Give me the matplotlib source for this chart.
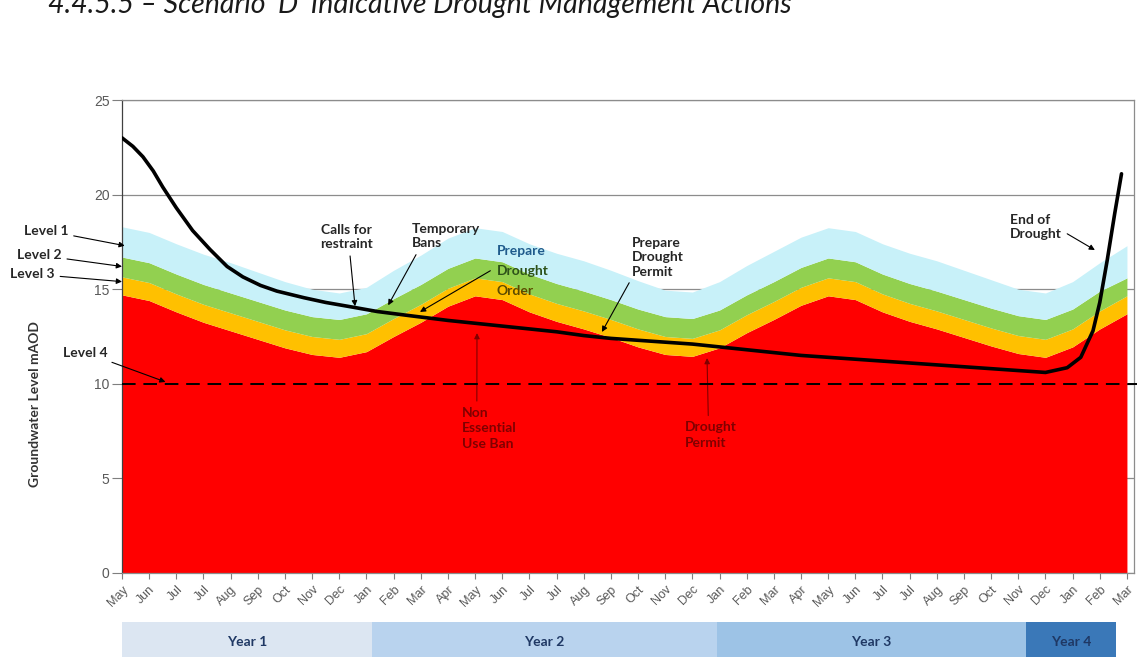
import numpy as np
import matplotlib.pyplot as plt

plt.rcParams['font.family'] = ['Lato', 'DejaVu Sans']

# month ticks (Year 1 .. Year 4)
months = ['May', 'Jun', 'Jul', 'Jul', 'Aug', 'Sep', 'Oct', 'Nov', 'Dec', 'Jan', 'Feb', 'Mar', 'Apr',
          'May', 'Jun', 'Jul', 'Jul', 'Aug', 'Sep', 'Oct', 'Nov', 'Dec', 'Jan', 'Feb', 'Mar', 'Apr',
          'May', 'Jun', 'Jul', 'Jul', 'Aug', 'Sep', 'Oct', 'Nov', 'Dec', 'Jan', 'Feb', 'Mar']

# trigger level boundaries (mAOD), one value per month tick
red_top = [14.7, 14.4, 13.8, 13.25, 12.8, 12.35, 11.9, 11.55, 11.4, 11.7, 12.5, 13.25, 14.1,
           14.65, 14.45, 13.8, 13.3, 12.9, 12.45, 11.95, 11.55, 11.45, 11.9, 12.7, 13.4, 14.15,
           14.65, 14.45, 13.8, 13.3, 12.9, 12.45, 12.0, 11.6, 11.4, 11.95, 12.9, 13.7]
yellow_top = [15.65, 15.35, 14.75, 14.2, 13.75, 13.3, 12.85, 12.5, 12.35, 12.65, 13.45, 14.2, 15.05,
              15.6, 15.4, 14.75, 14.25, 13.85, 13.4, 12.9, 12.5, 12.4, 12.85, 13.65, 14.35, 15.1,
              15.6, 15.4, 14.75, 14.25, 13.85, 13.4, 12.95, 12.55, 12.35, 12.9, 13.85, 14.65]
green_top = [16.7, 16.4, 15.8, 15.25, 14.8, 14.35, 13.9, 13.55, 13.4, 13.7, 14.5, 15.25, 16.1,
             16.65, 16.45, 15.8, 15.3, 14.9, 14.45, 13.95, 13.55, 13.45, 13.9, 14.7, 15.4, 16.15,
             16.65, 16.45, 15.8, 15.3, 14.9, 14.45, 14.0, 13.6, 13.4, 13.95, 14.9, 15.6]
blue_top = [18.3, 18.0, 17.4, 16.85, 16.4, 15.9, 15.4, 15.0, 14.8, 15.1, 16.0, 16.8, 17.7,
            18.25, 18.05, 17.4, 16.9, 16.5, 16.0, 15.45, 14.95, 14.85, 15.4, 16.25, 17.0, 17.75,
            18.25, 18.05, 17.4, 16.9, 16.5, 16.0, 15.5, 15.0, 14.8, 15.4, 16.4, 17.3]

# groundwater level
gw_x = [0, 0.4, 0.77, 1.15, 1.5, 2.0, 2.6, 3.24, 3.87, 4.45, 5.1, 5.7, 6.7, 7.5, 8.5, 9.4, 10.6,
        12, 13, 14, 15, 16, 17, 18, 19, 20, 21, 22, 23, 24, 25, 26, 27, 28, 29, 30, 31, 32, 33,
        34, 34.8, 35.3, 35.75, 36.0, 36.27, 36.55, 36.8]
gw_y = [23.0, 22.55, 22.0, 21.25, 20.4, 19.3, 18.1, 17.1, 16.2, 15.65, 15.2, 14.9, 14.55, 14.3,
        14.05, 13.82, 13.6, 13.35, 13.2, 13.05, 12.9, 12.75, 12.55, 12.4, 12.3, 12.2, 12.1, 11.95,
        11.8, 11.65, 11.5, 11.4, 11.3, 11.2, 11.1, 11.0, 10.9, 10.8, 10.7, 10.6, 10.85, 11.4,
        12.8, 14.3, 16.5, 19.0, 21.1]

level4 = 10

years = ['Year 1', 'Year 2', 'Year 3', 'Year 4']
year_edges = [0, 9.2, 21.9, 33.3, 36.6]
year_colors = ['#dce6f2', '#b9d3ee', '#9dc3e6', '#3a78b8']

x = np.arange(len(months))

fig = plt.figure(figsize=(11.37, 6.57), dpi=100)
W, H = 1137, 657
ax = fig.add_axes([122 / W, 84 / H, 1012 / W, 473 / H])

ax.fill_between(x, 0, red_top, color='#ff0000', lw=0, zorder=2)
ax.fill_between(x, red_top, yellow_top, color='#ffc000', lw=0, zorder=2)
ax.fill_between(x, yellow_top, green_top, color='#92d050', lw=0, zorder=2)
ax.fill_between(x, green_top, blue_top, color='#c8f1f9', lw=0, zorder=2)

ax.plot([0, 37.4], [level4, level4], color='k', lw=1.4, ls=(0, (7, 4)), zorder=4, clip_on=False)
ax.plot(gw_x, gw_y, color='k', lw=2.6, zorder=5, solid_capstyle='round', solid_joinstyle='round')

ax.set_xlim(0, 37.26)
ax.set_ylim(0, 25)
ax.set_yticks([0, 5, 10, 15, 20, 25])
ax.set_yticklabels(['0', '5', '10', '15', '20', '25'], family='Liberation Sans')
ax.set_xticks(x)
ax.set_xticklabels(months, rotation=45, ha='right', rotation_mode='anchor',
                   fontsize=9, color='#595959', family='Liberation Sans')
ax.tick_params(axis='y', labelsize=10, labelcolor='#595959', color='#7f7f7f', length=7, pad=2)
ax.tick_params(axis='x', color='#7f7f7f', length=4)
ax.grid(axis='y', color='#8c8c8c', lw=0.9, zorder=0)
ax.set_axisbelow(True)
for s in ax.spines.values():
    s.set_color('#8c8c8c')
    s.set_linewidth(0.9)
ax.spines['left'].set_color('#404040')
ax.set_ylabel('Groundwater Level mAOD', fontsize=10, fontweight='bold', color='#333333')
ax.yaxis.set_label_coords(-0.08, 0.357)

arrow = dict(arrowstyle='-|>', color='k', lw=0.8, mutation_scale=8, shrinkA=2, shrinkB=0)
lab = dict(fontsize=10, fontweight='bold', color='#262626', annotation_clip=False)

# trigger level labels
ax.annotate('Level 1', xy=(0.1, 17.3), xytext=(-2.8, 18.1), ha='center', va='center', arrowprops=arrow, **lab)
ax.annotate('Level 2', xy=(0.0, 16.2), xytext=(-3.05, 16.8), ha='center', va='center', arrowprops=arrow, **lab)
ax.annotate('Level 3', xy=(0.0, 15.4), xytext=(-3.3, 15.8), ha='center', va='center', arrowprops=arrow, **lab)
ax.annotate('Level 4', xy=(1.6, 10.1), xytext=(-1.35, 11.65), ha='center', va='center', arrowprops=arrow, **lab)

# drought actions
ax.annotate('Calls for\nrestraint', xy=(8.58, 14.1), xytext=(8.28, 17.75), ha='center', va='center',
            linespacing=1.25, arrowprops=dict(arrow, relpos=(0.55, 0)), **lab)
ax.annotate('Temporary\nBans', xy=(9.8, 14.15), xytext=(10.68, 17.8), ha='left', va='center',
            linespacing=1.25, arrowprops=dict(arrow, relpos=(0.1, 0)), **lab)
ax.annotate('', xy=(10.97, 13.8), xytext=(13.65, 16.05), arrowprops=arrow)
for txt, yy, col in [('Prepare', 17.0, '#1f5b8c'), ('Drought', 15.95, '#2d5219'), ('Order', 14.9, '#5c4a00')]:
    ax.text(13.8, yy, txt, ha='left', va='center', fontsize=10, fontweight='bold', color=col)
ax.annotate('Prepare\nDrought\nPermit', xy=(17.67, 12.74), xytext=(18.78, 16.7), ha='left', va='center',
            linespacing=1.25, arrowprops=dict(arrow, relpos=(0.0, 0.0)), **lab)
dark_red = dict(fontsize=10, fontweight='bold', color='#800000')
ax.annotate('Non\nEssential\nUse Ban', xy=(13.07, 12.68), xytext=(12.52, 7.66), ha='left', va='center',
            linespacing=1.35, arrowprops=dict(arrow, color='#800000', relpos=(0.27, 1)), **dark_red)
ax.annotate('Drought\nPermit', xy=(21.54, 11.36), xytext=(20.73, 7.3), ha='left', va='center',
            linespacing=1.35, arrowprops=dict(arrow, color='#800000', relpos=(0.45, 1)), **dark_red)
ax.annotate('End of\nDrought', xy=(35.82, 17.07), xytext=(32.7, 18.3), ha='left', va='center',
            linespacing=1.25, arrowprops=dict(arrow, relpos=(1, 0.35)), **lab)

# year bar
yax = fig.add_axes([122 / W, -5 / H, 1012 / W, 40 / H])
yax.set_xlim(ax.get_xlim())
yax.set_ylim(0, 1)
for i, name in enumerate(years):
    yax.axvspan(year_edges[i], year_edges[i + 1], color=year_colors[i], lw=0)
    yax.text((year_edges[i] + year_edges[i + 1]) / 2, 0.5, name, ha='center', va='center',
             fontsize=10, fontweight='bold', color='#1f3864')
yax.axis('off')

fig.text(48 / W, 1 - 13 / H, '4.4.5.5 \u2013 Scenario \u2018D\u2019 Indicative Drought Management Actions',
         fontsize=20.5, style='italic', ha='left', va='baseline', color='#1a1a1a')

fig.savefig('out.png', dpi=100)
